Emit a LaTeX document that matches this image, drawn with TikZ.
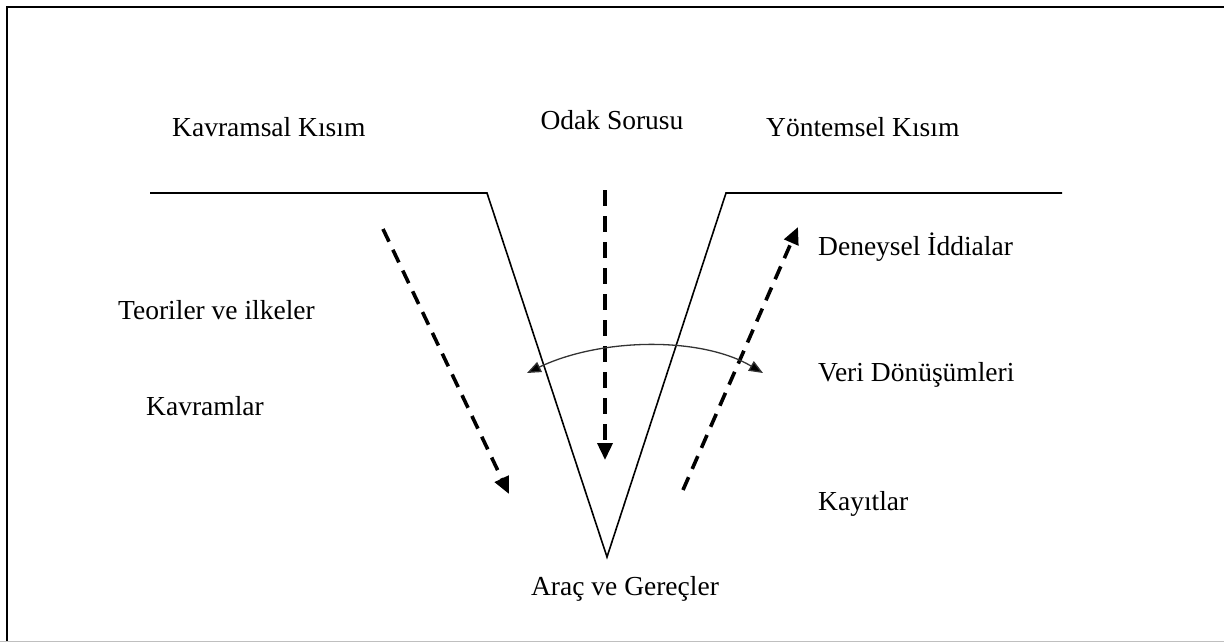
\documentclass[tikz,border=0pt]{standalone}
\usepackage{fontspec}
\setmainfont{Liberation Serif}
\usetikzlibrary{arrows.meta}
\begin{document}
\begin{tikzpicture}[x=1pt,y=-1pt,
  lbl/.style={inner sep=0pt,text height=0.7em,text depth=0.2em,font=\fontsize{27.5}{33}\selectfont},
  vline/.style={line width=1.6pt,black},
  flow/.style={line width=3.6pt,dash pattern=on 14pt off 9pt,-{Triangle[length=17pt,width=15pt]}},
  arcline/.style={line width=1.3pt,black!80,{Triangle[length=14pt,width=11pt,fill=black]}-{Triangle[length=14pt,width=11pt,fill=black]}}]
  % page frame: left and top rules, faint bottom rule
  \useasboundingbox (0,0) rectangle (1224,642);
  \draw[line width=2.4pt,black] (7,642) -- (7,7) -- (1224,7);
  \draw[line width=1.5pt,black!25] (0,641.5) -- (1224,641.5);

  % the V with its two shoulders
  \coordinate (lend) at (150,193);
  \coordinate (lrim) at (487,193);
  \coordinate (tip) at (607,557);
  \coordinate (rrim) at (726,193);
  \coordinate (rend) at (1062,193);
  \draw[vline] (lend) -- (lrim) -- (tip) -- (rrim) -- (rend);

  % labels
  \node[lbl] (focus) at (612,127) {Odak Sorusu};
  \node[lbl,anchor=west] (concept) at (172,134) {Kavramsal Kısım};
  \node[lbl,anchor=west] (method) at (766,134) {Yöntemsel Kısım};
  \node[lbl,anchor=west] (claims) at (818,253) {Deneysel İddialar};
  \node[lbl,anchor=west] (theory) at (118,317) {Teoriler ve ilkeler};
  \node[lbl,anchor=west] (trans) at (818,379) {Veri Dönüşümleri};
  \node[lbl,anchor=west] (concepts) at (146,413) {Kavramlar};
  \node[lbl,anchor=west] (records) at (818,508) {Kayıtlar};
  \node[lbl] (tools) at (625,593) {Araç ve Gereçler};

  % dashed flow arrows
  \coordinate (a1) at (383,229);
  \coordinate (a2) at (509,494);
  \coordinate (c1) at (605,190);
  \coordinate (c2) at (605,460);
  \coordinate (b1) at (683,490);
  \coordinate (b2) at (798,227);
  \draw[flow] (a1) -- (a2);
  \draw[flow,dash pattern=on 16pt off 10pt] (c1) -- (c2);
  \draw[flow] (b1) -- (b2);

  % interaction arc across the V
  \coordinate (w1) at (527,373);
  \coordinate (w2) at (763,373);
  \draw[arcline] (w1) .. controls (600,338) and (700,336) .. (w2);
\end{tikzpicture}
\end{document}
